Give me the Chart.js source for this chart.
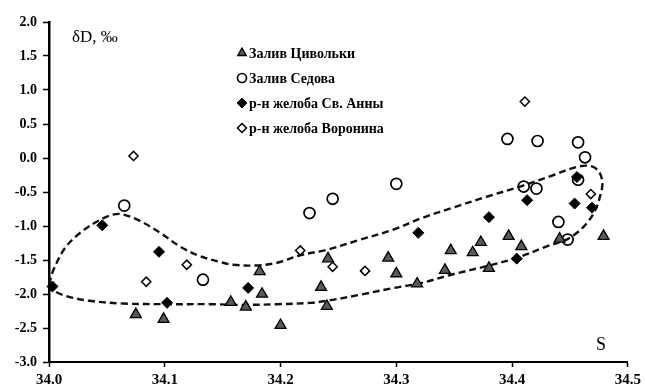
<!DOCTYPE html>
<html lang="ru">
<head>
  <meta charset="UTF-8" />
  <title>δD – S</title>
  <script src="https://cdn.jsdelivr.net/npm/chart.js"></script>
  <style>
    html, body { margin: 0; padding: 0; background: #fff; }
    #wrap { width: 645px; height: 387px; }
  </style>
</head>
<body>
  <div id="wrap"><canvas id="dsChart" width="645" height="387"></canvas></div>

  <script>
    // данные: соленость S и δD, ‰
    const seriesNames = ['Залив Цивольки', 'Залив Седова', 'р-н желоба Св. Анны', 'р-н желоба Воронина'];

    const tsivolkiS = [34.075, 34.099, 34.157, 34.170, 34.182, 34.184, 34.200, 34.235, 34.240, 34.241, 34.293,
      34.300, 34.318, 34.342, 34.347, 34.366, 34.373, 34.380, 34.397, 34.408, 34.441, 34.479];
    const tsivolkiD = [-2.30, -2.37, -2.12, -2.19, -1.67, -2.00, -2.46, -1.90, -2.18, -1.48, -1.47,
      -1.70, -1.85, -1.65, -1.36, -1.39, -1.24, -1.62, -1.15, -1.30, -1.19, -1.15];

    const sedovS = [34.065, 34.133, 34.225, 34.245, 34.300, 34.396, 34.422, 34.457, 34.463, 34.410, 34.421, 34.457, 34.440, 34.448];
    const sedovD = [-0.70, -1.79, -0.81, -0.60, -0.38, 0.28, 0.25, 0.23, 0.01, -0.42, -0.45, -0.32, -0.94, -1.20];

    const annaS = [34.003, 34.046, 34.095, 34.102, 34.172, 34.319, 34.380, 34.413, 34.404, 34.454, 34.469, 34.456];
    const annaD = [-1.89, -0.99, -1.38, -2.13, -1.91, -1.10, -0.87, -0.62, -1.48, -0.67, -0.73, -0.28];

    const voroninS = [34.073, 34.084, 34.119, 34.217, 34.245, 34.273, 34.468, 34.411];
    const voroninD = [0.03, -1.82, -1.57, -1.36, -1.60, -1.66, -0.53, 0.83];

    // контур (пунктир), обход против часовой стрелки
    const contourS = [34.000, 34.004, 34.014, 34.027, 34.044, 34.056, 34.064, 34.079, 34.096, 34.113, 34.130,
      34.148, 34.159, 34.179, 34.197, 34.217, 34.240, 34.269, 34.298, 34.321, 34.349, 34.378, 34.407,
      34.436, 34.456, 34.468, 34.475, 34.478, 34.476, 34.472, 34.465, 34.456, 34.447, 34.430, 34.404,
      34.378, 34.349, 34.321, 34.298, 34.269, 34.240, 34.226, 34.197, 34.168, 34.139, 34.102, 34.064,
      34.035, 34.015, 34.002, 34.000];
    const contourD = [-1.86, -1.64, -1.32, -1.10, -0.91, -0.83, -0.83, -0.93, -1.10, -1.30, -1.44,
      -1.53, -1.57, -1.58, -1.54, -1.43, -1.35, -1.20, -1.05, -0.89, -0.73, -0.57, -0.42,
      -0.25, -0.13, -0.12, -0.20, -0.37, -0.56, -0.76, -0.95, -1.10, -1.20, -1.30, -1.47,
      -1.59, -1.71, -1.84, -1.91, -2.01, -2.10, -2.13, -2.15, -2.16, -2.15, -2.15, -2.14,
      -2.10, -2.03, -1.93, -1.86];

    const xTicks = [34.0, 34.1, 34.2, 34.3, 34.4, 34.5];
    const yTicks = [2.0, 1.5, 1.0, 0.5, 0.0, -0.5, -1.0, -1.5, -2.0, -2.5, -3.0];

    const pts = (xs, ys) => xs.map((x, i) => ({ x: x, y: ys[i] }));
    const serif = '"Liberation Serif", "Times New Roman", serif';

    // подписи осей и легенда
    const extras = {
      id: 'extras',
      afterDraw(chart) {
        const ctx = chart.ctx;
        ctx.save();
        ctx.fillStyle = '#000';
        ctx.textBaseline = 'alphabetic';
        ctx.textAlign = 'left';
        ctx.font = '17px ' + serif;
        ctx.fillText('δD, ‰', 72, 42);
        ctx.font = '18px ' + serif;
        ctx.fillText('S', 596, 350);

        // легенда
        const lx = 242, ly = 53, step = 25;
        chart.data.datasets.slice(0, 4).forEach((ds, i) => {
          const y = ly + i * step;
          ctx.fillStyle = ds.backgroundColor;
          ctx.strokeStyle = ds.borderColor;
          ctx.lineWidth = ds.borderWidth;
          Chart.helpers.drawPoint(ctx, {
            pointStyle: ds.pointStyle,
            radius: ds.legendRadius,
            borderWidth: ds.borderWidth,
            rotation: 0
          }, lx, y);
          ctx.fillStyle = '#000';
          ctx.font = 'bold 14px ' + serif;
          ctx.textBaseline = 'middle';
          ctx.fillText(ds.label, lx + 7, y + 1);
        });
        ctx.restore();
      }
    };

    const ctx = document.getElementById('dsChart');
    new Chart(ctx, {
      type: 'scatter',
      data: {
        datasets: [
          {
            label: seriesNames[0],
            data: pts(tsivolkiS, tsivolkiD),
            pointStyle: 'triangle',
            pointRadius: 6.3,
            legendRadius: 5,
            backgroundColor: '#5a5a5a',
            borderColor: '#000',
            borderWidth: 1.3,
            clip: false
          },
          {
            label: seriesNames[1],
            data: pts(sedovS, sedovD),
            pointStyle: 'circle',
            pointRadius: 5.5,
            legendRadius: 4.5,
            backgroundColor: 'rgba(255,255,255,0)',
            borderColor: '#000',
            borderWidth: 1.7,
            clip: false
          },
          {
            label: seriesNames[2],
            data: pts(annaS, annaD),
            pointStyle: 'rectRot',
            pointRadius: 5.5,
            legendRadius: 5,
            backgroundColor: '#000',
            borderColor: '#000',
            borderWidth: 1,
            clip: false
          },
          {
            label: seriesNames[3],
            data: pts(voroninS, voroninD),
            pointStyle: 'rectRot',
            pointRadius: 4.6,
            legendRadius: 4.5,
            backgroundColor: '#fff',
            borderColor: '#000',
            borderWidth: 1.5,
            clip: false
          },
          {
            label: 'контур',
            data: pts(contourS, contourD),
            showLine: true,
            pointRadius: 0,
            borderColor: '#111',
            borderWidth: 2.4,
            borderDash: [7, 4],
            tension: 0.35,
            fill: false,
            clip: false,
            order: 10
          }
        ]
      },
      options: {
        responsive: false,
        animation: false,
        layout: { padding: { top: 22, right: 17, bottom: 0, left: 0 } },
        plugins: {
          legend: { display: false },
          tooltip: { enabled: false }
        },
        scales: {
          x: {
            type: 'linear',
            min: xTicks[0],
            max: xTicks[xTicks.length - 1],
            afterBuildTicks: (s) => { s.ticks = xTicks.map(v => ({ value: v })); },
            afterFit: (s) => { s.height = 25; },
            grid: { drawOnChartArea: false, color: '#000', tickLength: 5, tickWidth: 1.5 },
            border: { color: '#000', width: 2 },
            ticks: {
              color: '#000',
              padding: 4,
              maxRotation: 0,
              font: { family: serif, size: 15, weight: 'bold' },
              callback: (v) => Number(v).toFixed(1)
            }
          },
          y: {
            type: 'linear',
            min: yTicks[yTicks.length - 1],
            max: yTicks[0],
            afterBuildTicks: (s) => { s.ticks = yTicks.map(v => ({ value: v })); },
            afterFit: (s) => { s.width = 49; },
            grid: { drawOnChartArea: false, color: '#000', tickLength: 6, tickWidth: 1.5 },
            border: { color: '#000', width: 2.5 },
            ticks: {
              color: '#000',
              padding: 6,
              font: { family: serif, size: 14, weight: 'bold' },
              callback: (v) => Number(v).toFixed(1)
            }
          }
        }
      },
      plugins: [extras]
    });
  </script>
</body>
</html>
